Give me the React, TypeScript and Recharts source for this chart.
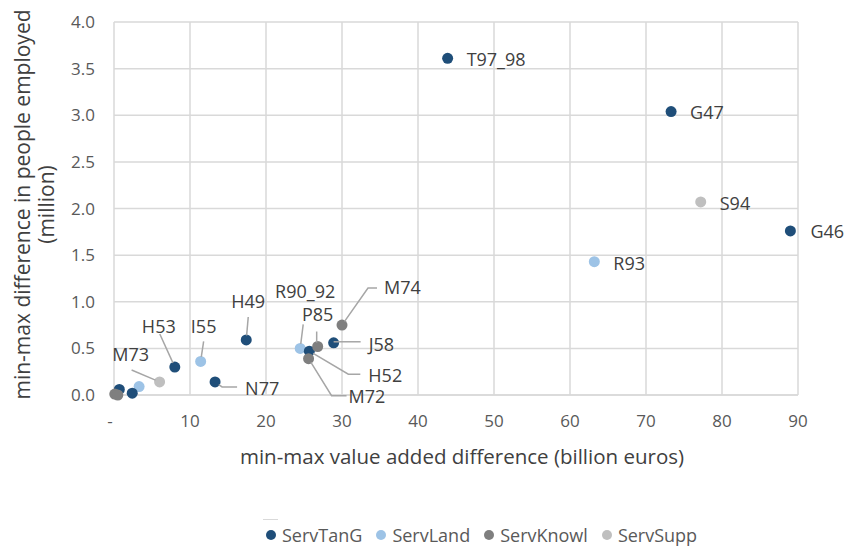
import {
  ScatterChart, Scatter, XAxis, YAxis, CartesianGrid, LabelList, Legend,
} from 'recharts'

const FONT = '"Open Sans", "Noto Sans", sans-serif'

// x: min-max value added difference (bn EUR), y: min-max employment difference (m)
const servTanG = [
  { code: 'T97_98', x: 43.9, y: 3.61 },
  { code: 'G47', x: 73.3, y: 3.04 },
  { code: 'G46', x: 89.0, y: 1.76 },
  { code: 'J58', x: 28.9, y: 0.56 },
  { code: 'H52', x: 25.7, y: 0.47 },
  { code: 'H49', x: 17.4, y: 0.59 },
  { code: 'H53', x: 8.0, y: 0.3 },
  { code: 'N77', x: 13.3, y: 0.14 },
  { code: '', x: 0.7, y: 0.06 },
  { code: '', x: 2.4, y: 0.02 },
]
const servLand = [
  { code: 'R93', x: 63.2, y: 1.43 },
  { code: 'R90_92', x: 24.5, y: 0.5 },
  { code: 'I55', x: 11.4, y: 0.36 },
  { code: '', x: 3.3, y: 0.09 },
]
const servKnowl = [
  { code: 'M74', x: 30.0, y: 0.75 },
  { code: 'P85', x: 26.8, y: 0.52 },
  { code: 'M72', x: 25.6, y: 0.39 },
  { code: '', x: 0.1, y: 0.01 },
  { code: '', x: 0.5, y: 0.0 },
]
const servSupp = [
  { code: 'S94', x: 77.2, y: 2.07 },
  { code: 'M73', x: 6.0, y: 0.14 },
]

const xTicks = [0, 10, 20, 30, 40, 50, 60, 70, 80, 90]
const yTicks = [0, 0.5, 1, 1.5, 2, 2.5, 3, 3.5, 4]

const colors: Record<string, string> = {
  ServTanG: '#1f4e79',
  ServLand: '#9dc3e6',
  ServKnowl: '#7f7f7f',
  ServSupp: '#bfbfbf',
}
const legendOrder = ['ServTanG', 'ServLand', 'ServKnowl', 'ServSupp']

// where each data label sits relative to its dot (px), with optional leader line
const labelLayout: Record<string, { dx: number; dy: number; anchor?: 'start' | 'middle'; path?: number[][] }> = {
  T97_98: { dx: 19, dy: 1 },
  G47: { dx: 19, dy: 1 },
  S94: { dx: 19, dy: 2 },
  G46: { dx: 20, dy: 1 },
  R93: { dx: 19, dy: 2 },
  M74: { dx: 42, dy: -37, path: [[0, 0], [26, -37], [35, -37]] },
  J58: { dx: 35, dy: 2, path: [[0, -1], [27, -1]] },
  P85: { dx: 0, dy: -32, anchor: 'middle', path: [[-1, -4], [-1, -15]] },
  R90_92: { dx: 5, dy: -57, anchor: 'middle', path: [[0, 0], [3, -24]] },
  H52: { dx: 59, dy: 25, path: [[0, 0], [39, 23], [51, 23]] },
  M72: { dx: 40, dy: 38, path: [[0, 0], [23, 37], [38, 37]] },
  H49: { dx: 2, dy: -38, anchor: 'middle', path: [[0, 0], [2, -23]] },
  I55: { dx: 3, dy: -35, anchor: 'middle', path: [[0, 0], [3, -20]] },
  H53: { dx: -16, dy: -40, anchor: 'middle', path: [[0, 0], [-15, -33]] },
  M73: { dx: -29, dy: -27, anchor: 'middle', path: [[0, 0], [-28, -12]] },
  N77: { dx: 30, dy: 7, path: [[0, 0], [7, 5], [22, 5]] },
}

const R = 5.5

const dot = (color: string) => (p: any) => (
  <circle cx={p.cx} cy={p.cy} r={R} fill={color} />
)

function DataLabel(props: any) {
  const { value } = props
  const lay = labelLayout[value]
  if (!value || !lay) return null
  const vb = props.viewBox || props
  const cx = vb.x + vb.width / 2
  const cy = vb.y + vb.height / 2
  let line = null
  if (lay.path) {
    const pts = lay.path.map(([a, b]) => [a, b])
    const [a, b] = pts[0]
    const [c, d] = pts[1]
    const len = Math.hypot(c - a, d - b)
    if (a === 0 && b === 0 && len > R) {
      pts[0] = [(c - a) * (R - 1) / len, (d - b) * (R - 1) / len]
    }
    line = (
      <polyline
        points={pts.map(([px, py]) => `${cx + px},${cy + py}`).join(' ')}
        fill="none"
        stroke="#a6a6a6"
        strokeWidth={1.5}
      />
    )
  }
  return (
    <g>
      {line}
      <text
        x={cx + lay.dx}
        y={cy + lay.dy}
        dy="0.35em"
        textAnchor={lay.anchor || 'start'}
        fontFamily={FONT}
        fontSize={18}
        fill="#404040"
      >
        {value}
      </text>
    </g>
  )
}

function XTick({ x, y, payload }: any) {
  const zero = payload.value === 0
  return (
    <text
      x={zero ? x - 4 : x}
      y={y}
      dy="0.71em"
      textAnchor="middle"
      fontFamily={FONT}
      fontSize={17}
      fill="#595959"
    >
      {zero ? '-' : payload.value}
    </text>
  )
}

function YTitle({ viewBox }: any) {
  const cy = viewBox.y + viewBox.height / 2 - 4
  return (
    <g transform={`translate(${viewBox.x}, ${cy}) rotate(-90)`}>
      <text x={0} y={23} dy="0.35em" textAnchor="middle" fontFamily={FONT} fontSize={21} fill="#404040">
        min-max difference in people employed
      </text>
      <text x={0} y={47} dy="0.35em" textAnchor="middle" fontFamily={FONT} fontSize={21} fill="#404040">
        (million)
      </text>
    </g>
  )
}

function LegendContent() {
  return (
    <div style={{ position: 'relative', height: 82, fontFamily: FONT }}>
      <div style={{ position: 'absolute', left: 263, top: 54, width: 15, height: 1, background: '#d9d9d9' }} />
      <div
        style={{
          position: 'absolute', left: 266, top: 58, display: 'flex', gap: 14,
          fontSize: 18, lineHeight: '24px', color: '#595959', whiteSpace: 'nowrap',
        }}
      >
        {legendOrder.map(name => (
          <span key={name} style={{ display: 'flex', alignItems: 'center', gap: 6 }}>
            <span style={{ width: 10, height: 10, borderRadius: 5, background: colors[name], display: 'inline-block' }} />
            {name}
          </span>
        ))}
      </div>
    </div>
  )
}

export default function App() {
  return (
    <div style={{ width: 845, height: 547, background: '#fff' }}>
      <style>{'body{margin:0}'}</style>
      <ScatterChart
        width={845}
        height={547}
        margin={{ top: 22, right: 47, bottom: 0, left: 0 }}
      >
        <CartesianGrid stroke="#d9d9d9" strokeWidth={1.5} />
        <XAxis
          type="number"
          dataKey="x"
          domain={[0, 90]}
          ticks={xTicks}
          height={70}
          tick={<XTick />}
          tickSize={0}
          tickMargin={20}
          axisLine={{ stroke: '#d9d9d9', strokeWidth: 1.5 }}
          label={{
            value: 'min-max value added difference (billion euros)',
            position: 'insideBottom',
            offset: 1,
            dx: 6,
            fill: '#404040',
            fontSize: 20.5,
            fontFamily: FONT,
          }}
        />
        <YAxis
          type="number"
          dataKey="y"
          domain={[0, 4]}
          ticks={yTicks}
          width={114}
          tickSize={0}
          tickMargin={19}
          axisLine={false}
          tickFormatter={(v: number) => v.toFixed(1)}
          tick={{ fill: '#595959', fontSize: 17, fontFamily: FONT }}
          label={<YTitle />}
        />
        <Legend verticalAlign="bottom" content={<LegendContent />} wrapperStyle={{ left: 0, width: 845 }} />
        <Scatter name="ServLand" data={servLand} shape={dot(colors.ServLand)} isAnimationActive={false}>
          <LabelList dataKey="code" content={<DataLabel />} />
        </Scatter>
        <Scatter name="ServTanG" data={servTanG} shape={dot(colors.ServTanG)} isAnimationActive={false}>
          <LabelList dataKey="code" content={<DataLabel />} />
        </Scatter>
        <Scatter name="ServKnowl" data={servKnowl} shape={dot(colors.ServKnowl)} isAnimationActive={false}>
          <LabelList dataKey="code" content={<DataLabel />} />
        </Scatter>
        <Scatter name="ServSupp" data={servSupp} shape={dot(colors.ServSupp)} isAnimationActive={false}>
          <LabelList dataKey="code" content={<DataLabel />} />
        </Scatter>
      </ScatterChart>
    </div>
  )
}
